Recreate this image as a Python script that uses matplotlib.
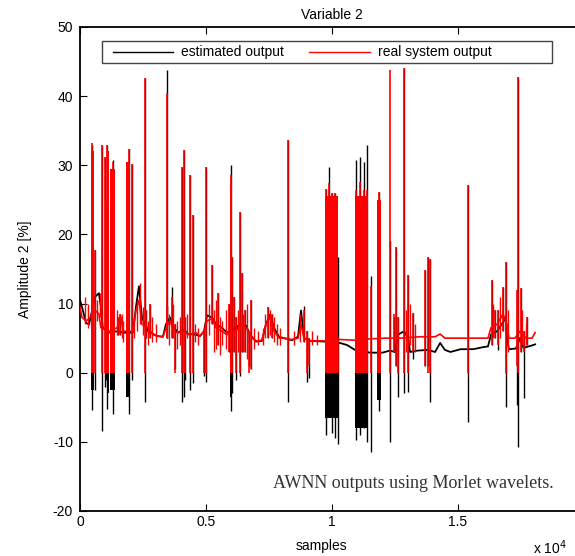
"""AWNN outputs (Morlet wavelets) - Variable 2, estimated vs real system output."""

import numpy as np
import matplotlib
matplotlib.use("Agg")
import matplotlib.pyplot as plt
from matplotlib.patches import Rectangle

# x values are in units of 1e4 samples
real_base_x = [0.000, 0.008, 0.024, 0.036, 0.060, 0.075, 0.083, 0.119, 0.147, 0.163, 0.171,
               0.210, 0.222, 0.234, 0.246, 0.270, 0.290, 0.306, 0.329, 0.341, 0.357, 0.373,
               0.389, 0.413, 0.429, 0.460, 0.476, 0.492, 0.504, 0.524, 0.540, 0.563, 0.583,
               0.619, 0.635, 0.659, 0.675, 0.698, 0.722, 0.738, 0.754, 0.770, 0.790, 0.810,
               0.841, 0.865, 0.877, 0.889, 0.913, 0.972, 1.032, 1.091, 1.151, 1.210, 1.270,
               1.349, 1.409, 1.429, 1.448, 1.528, 1.619, 1.631, 1.655, 1.679, 1.694, 1.702,
               1.726, 1.746, 1.770, 1.794, 1.806]
real_base_y = [9.5, 8.0, 7.5, 7.8, 9.0, 8.5, 6.5, 6.0, 6.5, 8.0, 6.0,
               6.0, 9.0, 10.5, 7.0, 6.5, 5.5, 5.3, 5.2, 6.5, 7.5, 6.0,
               5.8, 6.0, 5.5, 5.8, 5.3, 6.0, 7.5, 7.8, 6.5, 6.0, 5.5,
               6.0, 7.0, 6.5, 5.5, 4.6, 4.7, 7.0, 8.0, 6.0, 5.0, 5.0,
               4.8, 5.0, 7.0, 5.0, 4.6, 4.6, 4.8, 4.7, 4.9, 5.0, 5.0,
               5.2, 5.2, 5.6, 5.0, 5.0, 5.0, 6.5, 7.0, 8.5, 7.0, 5.0,
               5.0, 6.0, 5.0, 5.0, 5.8]

est_base_x = [0.000, 0.008, 0.024, 0.036, 0.060, 0.075, 0.083, 0.090, 0.119, 0.147, 0.171,
              0.210, 0.222, 0.234, 0.246, 0.270, 0.290, 0.306, 0.329, 0.341, 0.357, 0.373,
              0.389, 0.413, 0.429, 0.460, 0.476, 0.492, 0.504, 0.524, 0.540, 0.563, 0.583,
              0.619, 0.635, 0.659, 0.675, 0.698, 0.722, 0.738, 0.754, 0.770, 0.790, 0.810,
              0.841, 0.865, 0.877, 0.889, 0.913, 0.972, 1.032, 1.060, 1.091, 1.151, 1.200,
              1.230, 1.250, 1.262, 1.286, 1.302, 1.310, 1.340, 1.380, 1.409, 1.429, 1.448,
              1.470, 1.510, 1.560, 1.600, 1.619, 1.631, 1.655, 1.679, 1.690, 1.694, 1.702,
              1.730, 1.746, 1.760, 1.790, 1.806]
est_base_y = [10.5, 9.5, 7.2, 7.0, 11.0, 11.5, 9.5, 6.5, 5.8, 6.0, 5.8,
              5.8, 9.5, 12.5, 8.0, 6.0, 5.6, 5.3, 5.2, 7.0, 8.0, 6.5,
              5.8, 6.2, 5.6, 5.5, 5.3, 6.0, 8.3, 8.0, 7.0, 6.5, 5.8,
              6.5, 7.0, 6.8, 5.5, 4.5, 4.6, 7.0, 8.4, 6.5, 5.2, 5.0,
              4.7, 5.2, 9.0, 5.0, 4.6, 4.5, 4.3, 4.0, 3.3, 2.9, 2.9,
              3.2, 3.0, 5.5, 6.0, 5.0, 3.0, 3.2, 3.3, 3.0, 4.3, 3.3,
              3.0, 3.4, 3.4, 3.7, 3.8, 5.5, 6.0, 7.3, 8.0, 5.0, 3.4,
              3.5, 5.0, 3.6, 3.9, 4.1]

# isolated spikes
spike_x = [0.046, 0.060, 0.086, 0.099, 0.103, 0.108, 0.132, 0.150, 0.158, 0.194,
           0.206, 0.258, 0.263, 0.278, 0.344, 0.346, 0.365, 0.377, 0.404, 0.413,
           0.417, 0.437, 0.447, 0.492, 0.499, 0.525, 0.549, 0.590, 0.600, 0.604,
           0.610, 0.619, 0.635, 0.642, 0.656, 0.672, 0.677, 0.745, 0.760, 0.824,
           0.890, 0.900, 0.907, 0.976, 0.988, 1.000, 1.012, 1.024, 1.095, 1.110,
           1.125, 1.139, 1.155, 1.186, 1.230, 1.247, 1.255, 1.262, 1.286, 1.302,
           1.321, 1.369, 1.380, 1.389, 1.541, 1.634, 1.645, 1.659, 1.677, 1.690,
           1.735, 1.739, 1.749, 1.762, 1.775]
spike_real_top = [33.2, 17.8, 33.0, 31.2, 25.0, 33.0, 30.5, 8.0, 8.5, 32.4,
                  30.2, 42.6, 9.0, 10.0, 9.7, 40.4, 11.0, 7.0, 29.8, 32.2,
                  8.0, 28.6, 22.8, 6.0, 29.8, 15.6, 11.5, 10.0, 28.6, 16.7,
                  11.0, 8.0, 23.3, 14.4, 9.0, 6.0, 10.5, 9.5, 8.5, 33.6,
                  9.1, 6.0, 5.0, 26.5, 27.4, 26.0, 26.0, 5.0, 26.4, 27.6,
                  26.4, 26.4, 12.5, 26.2, 43.8, 8.5, 18.2, 8.0, 44.0, 14.1,
                  8.6, 14.8, 16.8, 16.5, 27.1, 13.4, 9.0, 9.0, 12.4, 16.0,
                  12.0, 42.8, 12.3, 6.0, 8.0]
spike_real_low = [0, 0, 0, 0, 0, 0, 0, 5.5, 5.5, 0,
                  0, 0, 5.0, 5.0, 5.0, 5.0, 5.0, 0, 0, 0,
                  0, 0, 0, 0, 0, 7.0, 4.0, 3.0, 0, 0,
                  3.0, 0, 0, 3.0, 3.0, 0, 0.5, 5.0, 5.0, 0,
                  4.5, 0, 1.0, 0, 0, 0, 0, 0, 0, 0,
                  0, 0, 0, 0, 0, 3.0, 1.0, 0, 0, 0,
                  3.0, 1.0, 0, 0, 0, 4.0, 5.0, 4.0, 6.0, 0,
                  1.0, 0, 3.0, 3.0, 4.0]
spike_est_top = [33.0, 17.8, 33.0, 31.2, 25.0, 33.0, 30.8, 8.0, 8.5, 32.4,
                 30.2, 42.6, 9.0, 10.0, 9.7, 43.8, 12.4, 7.0, 29.8, 32.2,
                 8.0, 28.6, 22.8, 6.0, 29.8, 15.6, 11.5, 10.0, 30.0, 16.7,
                 11.0, 8.0, 23.3, 14.4, 9.0, 6.0, 10.5, 9.5, 8.5, 33.6,
                 9.6, 6.0, 5.0, 26.5, 29.8, 26.0, 26.0, 16.8, 30.8, 31.2,
                 30.5, 32.9, 14.0, 26.2, 19.0, 8.0, 18.2, 8.0, 44.0, 14.1,
                 8.6, 14.8, 16.8, 16.5, 27.1, 13.4, 9.0, 9.0, 12.4, 16.0,
                 12.0, 42.8, 12.3, 6.0, 8.0]
spike_est_low = [-5.4, -2.5, -8.5, -2.1, -1.0, -5.2, -5.9, 5.5, 5.5, -5.9,
                 -1.1, -4.2, 5.0, 5.0, 5.0, 5.0, 5.0, 0.5, -4.2, -3.5,
                 -1.0, -2.5, -1.5, -0.5, -1.4, 7.0, 4.0, 3.0, -5.6, -3.0,
                 3.0, -1.0, -0.5, 3.0, 3.0, 1.0, 0.5, 5.0, 5.0, -4.2,
                 4.5, -1.3, -0.8, -9.0, -3.7, -8.7, -9.5, -10.3, -9.7, -9.0,
                 -8.0, -10.0, -11.4, -5.6, -10.0, 3.0, 1.0, -3.5, -3.0, -2.8,
                 2.0, 1.0, 0.9, -4.2, -7.1, 4.0, 5.0, 3.3, 6.0, -4.9,
                 -4.6, -10.7, 3.0, -3.7, 4.0]

# small ripples around the real baseline
ripple_x = [0.020, 0.030, 0.068, 0.078, 0.145, 0.165, 0.172, 0.215, 0.226, 0.240,
            0.250, 0.268, 0.286, 0.300, 0.355, 0.370, 0.385, 0.395, 0.425, 0.458,
            0.470, 0.512, 0.532, 0.540, 0.556, 0.565, 0.578, 0.627, 0.648, 0.664,
            0.690, 0.705, 0.725, 0.735, 0.752, 0.768, 0.782, 0.795, 0.850, 0.873,
            0.920, 0.940, 1.295, 1.310, 1.330, 1.640, 1.665, 1.700, 1.755, 1.770]
ripple_top = [11.0, 10.0, 10.5, 11.5, 9.0, 8.5, 7.5, 8.0, 10.5, 13.0,
              9.5, 7.5, 8.0, 7.0, 8.5, 10.0, 7.5, 8.0, 8.5, 7.0,
              6.5, 10.0, 9.0, 10.5, 8.0, 7.5, 9.0, 9.0, 8.5, 10.0,
              6.5, 6.0, 6.5, 8.5, 9.0, 8.0, 7.0, 6.5, 6.0, 8.5,
              6.0, 5.5, 9.0, 10.0, 7.0, 10.0, 11.0, 9.0, 9.0, 7.0]
ripple_low = [7.0, 6.5, 7.5, 8.0, 5.5, 5.0, 4.5, 5.0, 6.0, 7.0,
              5.5, 4.0, 4.5, 4.5, 4.0, 5.0, 3.5, 4.0, 5.0, 4.5,
              4.0, 5.5, 3.0, 3.5, 2.5, 4.0, 3.5, 3.0, 3.0, 2.0,
              3.5, 4.0, 4.0, 5.0, 5.5, 4.5, 4.0, 4.0, 4.0, 4.5,
              4.0, 4.0, 3.0, 4.0, 3.0, 5.0, 5.0, 3.0, 4.0, 4.0]

# dense bursts (solid blocks of oscillation)
burst_start = [0.042, 0.106, 0.121, 0.181, 0.595, 0.972, 1.091, 1.179]
burst_end = [0.056, 0.116, 0.138, 0.199, 0.604, 1.024, 1.143, 1.194]
burst_top = [32.0, 32.0, 29.5, 30.5, 27.5, 25.5, 25.5, 25.0]
burst_est_low = [-2.5, -3.0, -2.5, -3.5, -3.5, -6.5, -8.0, -4.0]

W, H = 575, 556
plt.rcParams["font.family"] = ["Liberation Sans", "DejaVu Sans"]
plt.rcParams["axes.unicode_minus"] = False
fig = plt.figure(figsize=(W / 100, H / 100), dpi=100)
ax = fig.add_axes([80 / W, 45 / H, 504 / W, 484 / H])

red = "#ff0000"
blk = "#000000"

# estimated output (black) underneath
ax.plot(est_base_x, est_base_y, color=blk, lw=1.3, zorder=2)
ax.vlines(spike_x, spike_est_low, spike_est_top, color=blk, lw=1.0, zorder=2)
for s, e, t, lo in zip(burst_start, burst_end, burst_top, burst_est_low):
    ax.fill_between([s, e], [lo, lo], [t, t], color=blk, lw=0, zorder=2)

# real system output (red) on top
ax.plot(real_base_x, real_base_y, color=red, lw=1.2, zorder=3)
ax.vlines(ripple_x, ripple_low, ripple_top, color=red, lw=1.0, zorder=3)
ax.vlines(spike_x, spike_real_low, spike_real_top, color=red, lw=1.2, zorder=3)
for s, e, t in zip(burst_start, burst_end, burst_top):
    ax.fill_between([s, e], [0, 0], [t, t], color=red, lw=0, zorder=3)

ax.set_xlim(0, 2)
ax.set_ylim(-20, 50)
ax.set_xticks([0, 0.5, 1, 1.5, 2])
ax.set_xticklabels(["0", "0.5", "1", "1.5", ""])
ax.set_yticks(np.arange(-20, 51, 10))
ax.tick_params(direction="in", length=5, width=0.8, top=True, right=True, labelsize=10)
ax.tick_params(axis="y", pad=5)
ax.tick_params(axis="x", pad=3)
for sp in ax.spines.values():
    sp.set_linewidth(1.3)

# legend box (MATLAB style, horizontal)
ax.add_patch(Rectangle((0.0437, 0.926), 0.893, 0.045, transform=ax.transAxes,
                       fill=True, facecolor="white", edgecolor="#444444", lw=1.0, zorder=5))
ax.plot([0.0655, 0.1845], [0.9485, 0.9485], transform=ax.transAxes, color=blk, lw=1.0, zorder=6)
ax.text(0.2004, 0.9485, "estimated output", transform=ax.transAxes, fontsize=10,
        va="center", ha="left", zorder=6)
ax.plot([0.4544, 0.5754], [0.9485, 0.9485], transform=ax.transAxes, color=red, lw=1.0, zorder=6)
ax.text(0.5913, 0.9485, "real system output", transform=ax.transAxes, fontsize=10,
        va="center", ha="left", zorder=6)

fig.text(332 / W, 1 - 15 / H, "Variable 2", ha="center", va="center", fontsize=10)
ax.set_xlabel("samples", fontsize=10)
ax.xaxis.set_label_coords(0.48, -0.057)
ax.set_ylabel("Amplitude 2 [%]", fontsize=10)
ax.yaxis.set_label_coords(-0.095, 0.5)
fig.text(567 / W, 1 - 548 / H, "x 10$^4$", ha="right", va="center", fontsize=10)

ax.text(0.661, 0.057, "AWNN outputs using Morlet wavelets.", transform=ax.transAxes,
        ha="center", va="center", fontsize=13, family="Liberation Serif", color="#333333")

fig.savefig("out.png", dpi=100)
